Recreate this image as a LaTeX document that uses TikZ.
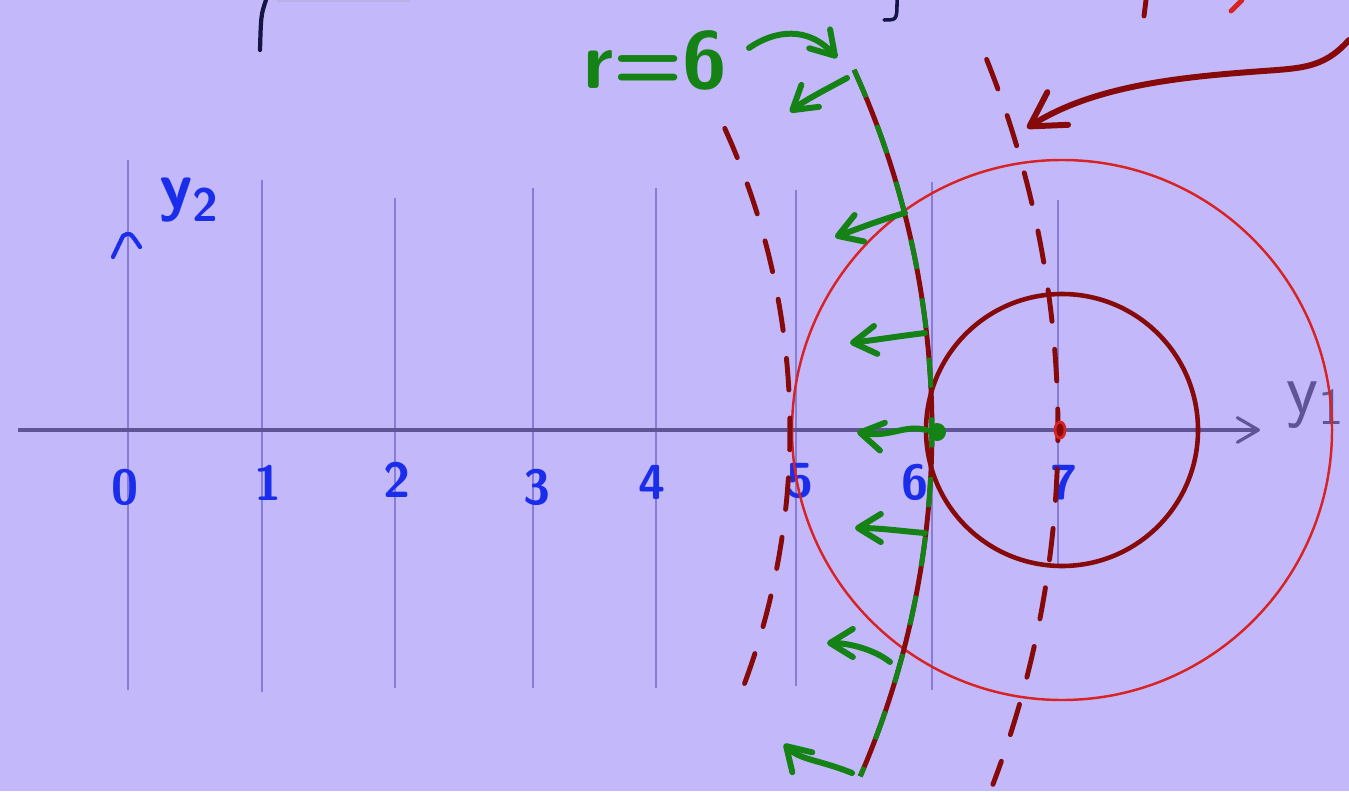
\documentclass[tikz,border=0pt]{standalone}
\usepackage{tikz}
\usetikzlibrary{arrows.meta}
\definecolor{bgc}{RGB}{195,185,250}
\definecolor{gridc}{RGB}{135,125,215}
\definecolor{axc}{RGB}{95,85,150}
\definecolor{numc}{RGB}{25,45,235}
\definecolor{grn}{RGB}{20,130,20}
\definecolor{dred}{RGB}{135,10,10}
\definecolor{cred}{RGB}{215,35,35}
\definecolor{inkc}{RGB}{20,20,70}
\tikzset{gl/.style={gridc,line width=0.6pt},
         ax/.style={axc,line width=0.9pt},
  lbl/.style={numc,inner sep=0pt,font=\sffamily\bfseries\fontsize{14}{14}\selectfont},
  dredarc/.style={dred,line width=1.4pt,line cap=round,dash pattern=on 9pt off 8pt},
  grnarc/.style={grn,line width=1.4pt,dash pattern=on 8.5pt off 8.5pt},
  bigcirc/.style={cred,line width=0.7pt},
  smallcirc/.style={dred,line width=1.3pt}
         }

\begin{document}
\begin{tikzpicture}[x=0.01cm,y=-0.01cm,
  garrow/.style={grn,line width=1.7pt,line cap=round,
    -{Straight Barb[length=6.5pt,width=8pt,round]}},
  rarrow/.style={dred,line width=1.7pt,line cap=round,
    -{Straight Barb[length=9.5pt,width=11pt,round]}}]
        \fill[bgc] (0,0) rectangle (1349,791);
        \useasboundingbox (0,0) rectangle (1349,791);

        \draw[gl] (128,160) -- (128,690);
        \draw[gl] (262,180) -- (262,692);
        \draw[gl] (395,198) -- (395,688);
        \draw[gl] (533,188) -- (533,688);
        \draw[gl] (656,188) -- (656,688);
        \draw[gl] (796,190) -- (796,686);
        \draw[gl] (932,182) -- (932,690);
        \draw[gl] (1058,200) -- (1058,568);

        \coordinate (Y1a) at (18,430);
        \coordinate (Y1b) at (1260,430);
        \draw[ax,-{Straight Barb[length=6pt,width=7pt,round]}] (Y1a) -- (Y1b);
        \draw[numc,line width=1.2pt,line cap=round,line join=round]
            (113,257) -- (123,236) .. controls (130,232) .. (140,247);

        \node[lbl] (T0) at (125,487) {0};
        \node[lbl] (T1) at (268,483) {1};
        \node[lbl] (T2) at (397,480) {2};
        \node[lbl] (T3) at (537,487) {3};
        \node[lbl] (T4) at (652,482) {4};
        \node[lbl] (T5) at (800,481) {5};
        \node[lbl] (T6) at (915,482) {6};
        \node[lbl] (T7) at (1064,483) {7};
        \node[numc,font=\sffamily\bfseries\fontsize{19}{19}\selectfont] (Y2) at (190,200) {y\textsubscript{2}};
        \node[axc,font=\sffamily\fontsize{21}{21}\selectfont] (Y1) at (1316,405) {y\textsubscript{1}};
        \node[grn,font=\sffamily\bfseries\fontsize{23}{23}\selectfont] (R6) at (655,60) {r=6};

        \coordinate (K) at (1062,430);
        \draw[bigcirc] (K) circle[radius=270];
        \draw[smallcirc] (K) circle[radius=136];

        \coordinate (C) at (60,430);
        \draw[dredarc] (C) ++(-24.4:730) arc[start angle=-24.4,end angle=20.7,radius=730];
        \draw[dredarc] (C) ++(-21.8:998) arc[start angle=-21.8,end angle=20.8,radius=998];
        \draw[dred,line width=1.4pt] (C) ++(-24.4:872) arc[start angle=-24.4,end angle=23.4,radius=872];
        \draw[grnarc] (C) ++(-24.4:872) arc[start angle=-24.4,end angle=23.4,radius=872];

        \coordinate (G1a) at (749,48);  \coordinate (G1b) at (837,58);
        \coordinate (G2a) at (847,78);  \coordinate (G2b) at (790,112);
        \coordinate (G3a) at (905,213); \coordinate (G3b) at (835,237);
        \coordinate (G4a) at (925,333); \coordinate (G4b) at (850,343);
        \coordinate (G5a) at (926,430); \coordinate (G5b) at (857,432);
        \coordinate (G6a) at (925,533); \coordinate (G6b) at (855,528);
        \coordinate (G7a) at (890,662); \coordinate (G7b) at (827,643);
        \coordinate (G8a) at (852,773); \coordinate (G8b) at (784,744);
        \draw[garrow] (G1a) .. controls (775,30) and (808,26) .. (G1b);
        \draw[garrow] (G2a) .. controls (825,90) and (805,100) .. (G2b);
        \draw[garrow] (G3a) .. controls (880,220) and (860,228) .. (G3b);
        \draw[garrow] (G4a) .. controls (900,336) and (875,340) .. (G4b);
        \draw[garrow] (G5a) .. controls (905,424) and (890,438) .. (G5b);
        \draw[garrow] (G6a) .. controls (900,531) and (880,528) .. (G6b);
        \draw[garrow] (G7a) .. controls (875,650) and (850,643) .. (G7b);
        \draw[garrow] (G8a) .. controls (820,760) and (800,760) .. (G8b);

        \coordinate (P1) at (1349,40);
        \coordinate (P2) at (1027,128);
        \draw[rarrow] (P1) .. controls (1322,70) and (1300,68) .. (1250,72)
                           .. controls (1170,78) and (1090,88) .. (P2);

        \fill[grn] (937,432) circle[radius=9];
        \draw[cred,line width=0.8pt,fill=dred] (1060,430) ellipse[x radius=5,y radius=8];

        \draw[inkc,line width=1.2pt,line cap=round] (266,0) .. controls (261,15) .. (260,50);
        \draw[gridc!60,line width=0.6pt] (277,1) -- (410,1);
        \draw[inkc,line width=1pt,line cap=round] (897,0) .. controls (897,20) .. (884,20);
        \draw[dred,line width=1.4pt,line cap=round] (1146,0) -- (1144,16);
        \draw[cred,line width=1.4pt,line cap=round] (1242,0) -- (1231,11);
\end{tikzpicture}
\end{document}
